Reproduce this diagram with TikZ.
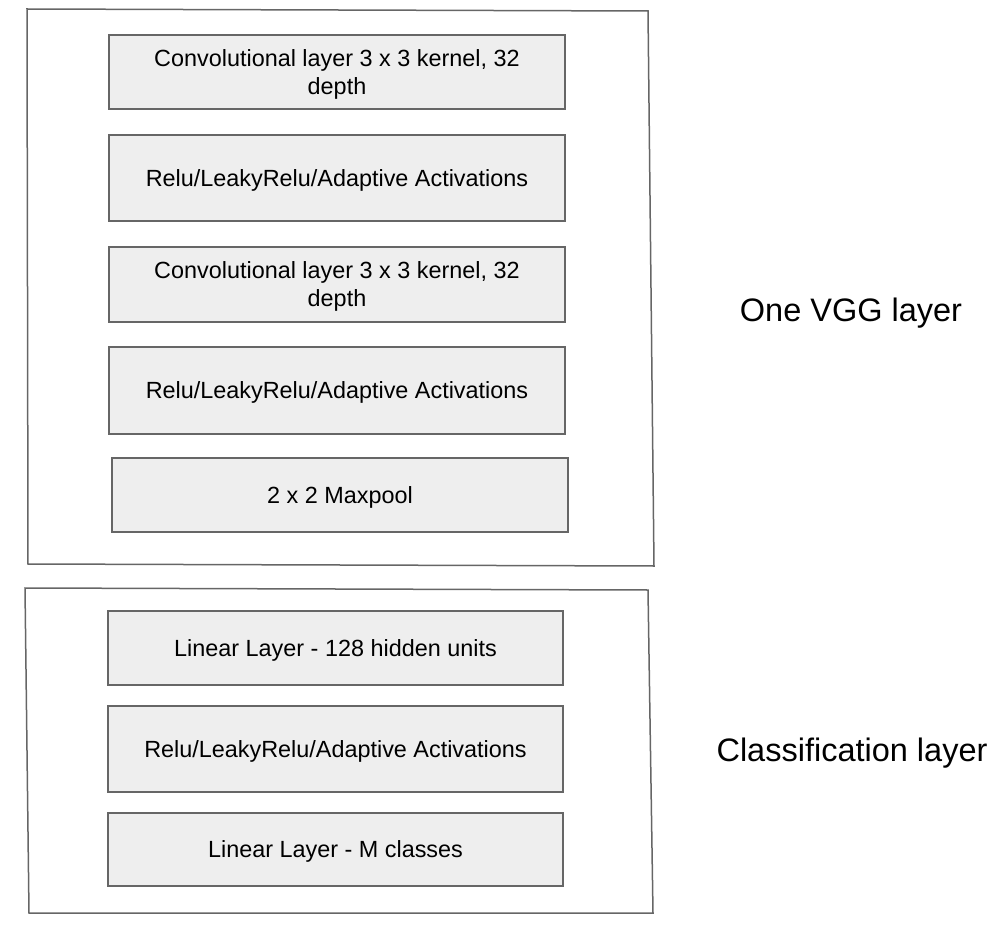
\documentclass[tikz,border=0pt]{standalone}
\usepackage{fontspec}
\setmainfont{Liberation Sans}
\definecolor{linegray}{HTML}{666666}
\definecolor{boxfill}{HTML}{EEEEEE}
\begin{document}
\begin{tikzpicture}[x=1pt,y=-1pt,
  box/.style={draw=linegray, fill=boxfill, line width=1.3pt, align=center,
    font=\fontsize{23.4}{28}\selectfont, inner sep=0pt, text depth=0pt, minimum width=456pt},
  frame/.style={draw=linegray, line width=1.5pt, line join=miter},
  caption/.style={font=\fontsize{32.5}{39}\selectfont, inner sep=0pt}]
\useasboundingbox (0,0) rectangle (1004,928);
% outer frames
\draw[frame] (27,9) -- (648,11) -- (654,566) -- (28,564) -- cycle;
\draw[frame] (25,588) -- (648,590) -- (653,913) -- (29,913) -- cycle;
% VGG layer boxes
\node[box, minimum height=74pt] (conv1) at (337,72) {Convolutional layer 3 x 3 kernel, 32\\depth};
\node[box, minimum height=86pt] (act1) at (337,178) {Relu/LeakyRelu/Adaptive Activations};
\node[box, minimum height=75pt] (conv2) at (337,284.5) {Convolutional layer 3 x 3 kernel, 32\\depth};
\node[box, minimum height=87pt] (act2) at (337,390.5) {Relu/LeakyRelu/Adaptive Activations};
\node[box, minimum height=74pt] (pool) at (340,495) {2 x 2 Maxpool};
% classification boxes
\node[box, minimum width=455pt, minimum height=74pt] (lin1) at (335.5,648) {Linear Layer - 128 hidden units};
\node[box, minimum width=455pt, minimum height=86pt] (act3) at (335.5,749) {Relu/LeakyRelu/Adaptive Activations};
\node[box, minimum width=455pt, minimum height=73pt] (lin2) at (335.5,849.5) {Linear Layer - M classes};
% captions
\node[caption] (vgg) at (851,313) {One VGG layer};
\node[caption] (cls) at (852,753) {Classification layer};
\end{tikzpicture}
\end{document}
